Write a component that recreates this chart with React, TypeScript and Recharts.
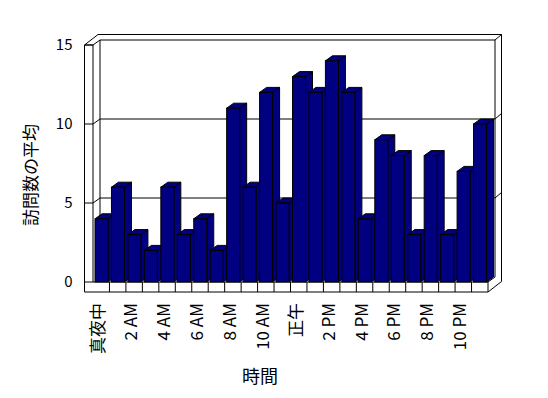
import React from 'react';
import { ComposedChart, Bar, XAxis, YAxis, CartesianGrid } from 'recharts';

// ---- data ----
const hourLabels = [
  '真夜中', '1 AM', '2 AM', '3 AM', '4 AM', '5 AM', '6 AM', '7 AM', '8 AM', '9 AM', '10 AM', '11 AM',
  '正午', '1 PM', '2 PM', '3 PM', '4 PM', '5 PM', '6 PM', '7 PM', '8 PM', '9 PM', '10 PM', '11 PM',
];
const visitAverages = [4, 6, 3, 2, 6, 3, 4, 2, 11, 6, 12, 5, 13, 12, 14, 12, 4, 9, 8, 3, 8, 3, 7, 10];
const yTicks = [0, 5, 10, 15];
const yTitle = '訪問数の平均';
const xTitle = '時間';

const data = hourLabels.map((h, i) => ({ hour: h, value: visitAverages[i] }));

// ---- layout ----
const W = 548;
const H = 398;
const L = 93;
const R = 488;
const T = 45;
const B = 282;
const Y_AXIS_W = 60;
const X_AXIS_H = 80;
const D1X = 7;
const D1Y = -5;
const D2X = 13.5;
const D2Y = -10.5;
const WALL = 8.5;
const FLOOR = 10;
const NAVY = '#000080';
const FONT = '"Noto Sans CJK JP", "Noto Sans", sans-serif';

const Bar3D = (props: any) => {
  const { x, y, width, height } = props;
  if (!height || height <= 0) return <g />;
  const top = `M${x},${y} L${x + D1X},${y + D1Y} L${x + width + D1X},${y + D1Y} L${x + width},${y} Z`;
  const side = `M${x + width},${y} L${x + width + D1X},${y + D1Y} L${x + width + D1X},${y + height + D1Y} L${x + width},${y + height} Z`;
  return (
    <g>
      <path d={side} fill={NAVY} stroke="#000" strokeWidth={1} />
      <path d={top} fill={NAVY} stroke="#000" strokeWidth={1} />
      <rect x={x} y={y} width={width} height={height} fill={NAVY} stroke="#000" strokeWidth={1} />
    </g>
  );
};

const GridLine = (p: any) => {
  const { x1, x2, y1 } = p;
  if (y1 >= B - 0.5 || y1 <= T + 0.5) return <g key={p.key} />;
  return (
    <g key={p.key} stroke="#000" strokeWidth={1} fill="none">
      <line x1={x1} y1={y1} x2={x1 + D1X} y2={y1 + D1Y} />
      <line x1={x1 + D1X} y1={y1 + D1Y} x2={x2 + D1X} y2={y1 + D1Y} />
      <line x1={x2 + D1X} y1={y1 + D1Y} x2={x2 + D2X} y2={y1 + D2Y} />
    </g>
  );
};

const XTick = (p: any) => {
  const { x, y, payload } = p;
  return (
    <text
      transform={`translate(${x + 3},${y + 21}) rotate(-90)`}
      textAnchor="end"
      fontSize={17}
      fontFamily={FONT}
      fill="#000"
    >
      {payload.value}
    </text>
  );
};

const Frame = () => {
  const n = hourLabels.length;
  const bw = (R - L) / n;
  const dividers = [];
  for (let i = 1; i < n; i++) {
    const xx = L + i * bw;
    dividers.push(<line key={i} x1={xx} y1={B} x2={xx} y2={B + FLOOR} />);
  }
  const LW = L - WALL;
  return (
    <svg width={W} height={H} style={{ position: 'absolute', left: 0, top: 0 }}>
      <g stroke="#000" strokeWidth={1} fill="none">
        <path d={`M${LW},${B + FLOOR} V${T} L${LW + D2X},${T + D2Y} H${R + D2X} V${B + D2Y + 10} L${R},${B + FLOOR} Z`} />
        <line x1={LW} y1={T} x2={L} y2={T} />
        <line x1={L} y1={T} x2={L} y2={B} />
        <line x1={L} y1={T} x2={L + D1X} y2={T + D1Y} />
        <path d={`M${L + D1X},${B + D1Y} V${T + D1Y} H${R + D1X} V${B + D1Y}`} />
        <line x1={R + D1X} y1={T + D1Y} x2={R + D2X} y2={T + D2Y} />
        <line x1={L} y1={B} x2={R} y2={B} />
        <line x1={R} y1={B} x2={R} y2={B + FLOOR} />
        <line x1={R} y1={B} x2={R + D1X} y2={B + D1Y} />
        {dividers}
      </g>
      <text
        transform={`translate(29,175) rotate(-90)`}
        textAnchor="middle"
        dominantBaseline="central"
        fontSize={17}
        fontFamily={FONT}
        fill="#000"
      >
        {yTitle}
      </text>
      <text x={260} y={375} textAnchor="middle" dominantBaseline="central" fontSize={18} fontFamily={FONT} fill="#000">
        {xTitle}
      </text>
    </svg>
  );
};

export default function App() {
  return (
    <div style={{ position: 'absolute', left: 0, top: 0, width: W, height: H, background: '#fff' }}>
      <Frame />
      <div style={{ position: 'absolute', left: 0, top: 0 }}>
        <ComposedChart
          width={W}
          height={H}
          data={data}
          margin={{ top: T, right: W - R, bottom: H - B - X_AXIS_H, left: L - Y_AXIS_W }}
          barSize={13}
        >
          <CartesianGrid vertical={false} horizontal={GridLine as any} />
          <XAxis
            dataKey="hour"
            interval={1}
            height={X_AXIS_H}
            tickSize={0}
            tickMargin={0}
            tickLine={false}
            axisLine={false}
            tick={<XTick />}
          />
          <YAxis
            domain={[0, 15]}
            ticks={yTicks}
            width={Y_AXIS_W}
            axisLine={false}
            tickSize={WALL}
            tickMargin={12}
            tickLine={{ stroke: '#000' }}
            tick={{ fill: '#000', fontSize: 15, fontFamily: FONT }}
            interval={0}
          />
          <Bar dataKey="value" shape={Bar3D} isAnimationActive={false} />
        </ComposedChart>
      </div>
    </div>
  );
}
